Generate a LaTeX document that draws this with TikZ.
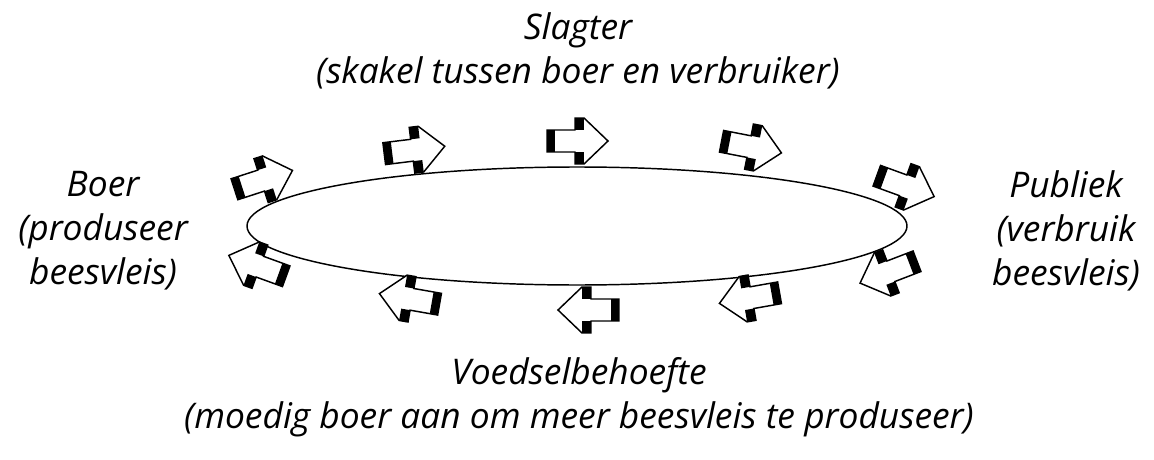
\documentclass[tikz,border=0pt]{standalone}
\usepackage{fontspec}
\setmainfont{Open Sans}
\usetikzlibrary{shapes.geometric}
\tikzset{
  lbl/.style={font=\itshape\fontsize{26.5}{33}\selectfont, align=center, inner sep=0pt},
  pics/flowarrow/.style={code={
    \draw[line width=1.1pt, fill=white] (-30,-11) -- (-2,-11) -- (-2,-23) -- (7,-23) -- (31,0)
      -- (7,23) -- (-2,23) -- (-2,11) -- (-30,11) -- cycle;
    \fill (-30,-11) rectangle (-22,11);
    \fill (-2,11) rectangle (7,23);
    \fill (-2,-23) rectangle (7,-11);
  }}
}
\begin{document}
\begin{tikzpicture}[x=0.75pt,y=-0.75pt]
\useasboundingbox (0,0) rectangle (1154,460);
\node[ellipse, draw, line width=1.1pt, minimum width=495pt, minimum height=88.5pt, inner sep=0pt] (ring) at (577,226) {};
\foreach \px/\py/\ang in {263/180/18, 414/150/7, 577/141/0, 751/147/-11, 905/186/-20,
                          889/272/201, 750/298/190, 589/310/180, 410/299/170, 258/266/160}
  \pic[rotate=\ang] at (\px,\py) {flowarrow};
\node[lbl] (slagter) at (578,51) {Slagter\\(skakel tussen boer en verbruiker)};
\node[lbl] (boer) at (103,231) {Boer\\(produseer\\beesvleis)};
\node[lbl] (publiek) at (1066,231) {Publiek\\(verbruik\\beesvleis)};
\node[lbl] (voedsel) at (579,397) {Voedselbehoefte\\(moedig boer aan om meer beesvleis te produseer)};
\end{tikzpicture}
\end{document}
